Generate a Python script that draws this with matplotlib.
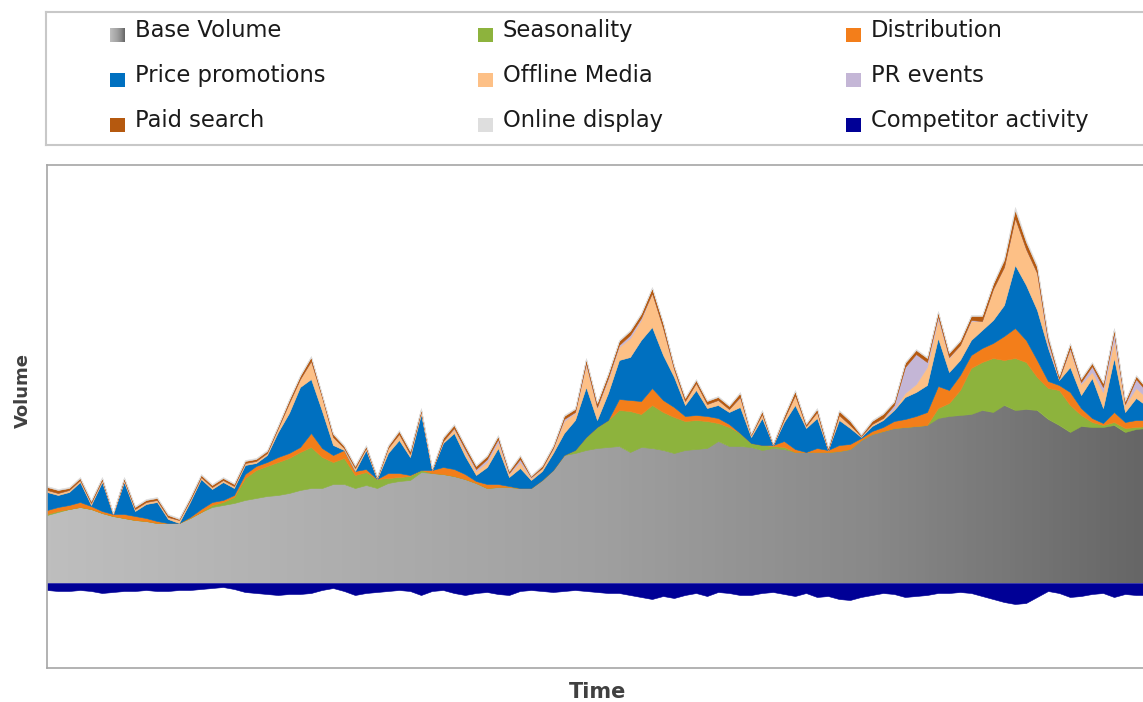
import numpy as np
import matplotlib
matplotlib.use("Agg")
import matplotlib.pyplot as plt
from matplotlib.colors import LinearSegmentedColormap
from matplotlib.patches import PathPatch, Rectangle

# weekly volume decomposition (arbitrary units)
base_volume = [68, 71, 74, 76, 74, 70, 67, 65, 63, 62,
               60, 60, 60, 65, 71, 76, 78, 80, 83, 85,
               87, 88, 90, 93, 95, 95, 99, 99, 95, 98,
               95, 100, 102, 103, 111, 110, 109, 107, 104, 100,
               95, 96, 96, 95, 95, 103, 113, 128, 130, 133,
               135, 136, 137, 131, 136, 135, 133, 130, 133, 134,
               135, 142, 137, 137, 136, 133, 135, 134, 131, 131,
               131, 131, 132, 134, 143, 149, 152, 155, 156, 157,
               158, 165, 167, 168, 169, 173, 171, 178, 173, 174,
               173, 164, 158, 151, 157, 156, 156, 158, 151, 154, 155]
seasonality = [1, 1, 0, 0, 0, 0, 0, 0, 0, 0,
               0, 0, 0, 0, 0, 2, 3, 6, 22, 28,
               30, 33, 35, 38, 41, 31, 22, 26, 13, 13,
               9, 5, 4, 4, 2, 0, 0, 0, 0, 0,
               0, 0, 0, 0, 0, 0, 0, 0, 3, 13,
               21, 27, 36, 41, 33, 43, 38, 36, 29, 29,
               27, 18, 19, 13, 4, 5, 2, 2, 0, 0,
               0, 0, 0, 0, 0, 0, 0, 0, 0, 0,
               0, 10, 13, 25, 46, 48, 54, 45, 52, 47,
               33, 31, 35, 27, 11, 5, 2, 3, 4, 2, 2]
distribution = [4, 4, 4, 5, 3, 2, 2, 4, 4, 3,
                2, 0, 0, 1, 3, 3, 2, 2, 4, 4,
                4, 5, 5, 5, 14, 9, 7, 8, 4, 3,
                0, 5, 4, 1, 0, 3, 7, 7, 5, 2,
                4, 3, 1, 0, 0, 0, 0, 0, 0, 0,
                0, 0, 11, 11, 13, 17, 12, 10, 5, 5,
                5, 5, 3, 0, 0, 0, 1, 6, 3, 0,
                4, 2, 6, 5, 2, 3, 4, 7, 8, 10,
                13, 22, 13, 15, 13, 14, 15, 24, 30, 22,
                17, 7, 5, 13, 7, 4, 2, 10, 6, 7, 6]
price_promotions = [18, 12, 13, 20, 1, 29, 0, 32, 5, 14,
                    19, 4, 0, 15, 30, 13, 18, 7, 9, 3,
                    7, 25, 40, 60, 54, 37, 10, 0, 0, 19,
                    0, 20, 33, 18, 56, 0, 24, 36, 18, 6,
                    17, 36, 9, 20, 8, 9, 17, 22, 30, 50,
                    7, 27, 39, 43, 61, 61, 45, 30, 11, 25,
                    8, 13, 12, 26, 6, 27, 0, 19, 44, 24,
                    30, 0, 25, 16, 1, 5, 7, 11, 22, 24,
                    27, 48, 18, 15, 15, 18, 23, 31, 63, 55,
                    50, 33, 5, 25, 13, 40, 15, 54, 10, 22, 14]
offline_media = [2, 2, 2, 2, 2, 2, 0, 2, 2, 2,
                 2, 2, 3, 2, 2, 2, 2, 2, 2, 2,
                 2, 4, 10, 8, 18, 14, 8, 2, 3, 2,
                 1, 5, 6, 3, 3, 0, 2, 4, 5, 4,
                 5, 6, 3, 6, 2, 3, 4, 12, 7, 22,
                 12, 13, 13, 19, 20, 34, 27, 7, 4, 7,
                 4, 5, 3, 9, 2, 4, 0, 3, 10, 2,
                 6, 0, 5, 3, 1, 2, 2, 1, 4, 8,
                 18, 19, 14, 15, 19, 9, 31, 38, 47, 36,
                 37, 2, 1, 17, 11, 6, 16, 18, 7, 10, 8]
pr_events = [0, 0, 0, 0, 0, 0, 0, 0, 0, 0,
             0, 0, 0, 0, 0, 0, 0, 0, 0, 0,
             0, 0, 0, 0, 0, 0, 0, 0, 0, 0,
             0, 0, 0, 0, 0, 0, 0, 1, 2, 2,
             3, 3, 1, 3, 1, 0, 1, 2, 1, 2,
             1, 2, 2, 3, 2, 0, 0, 1, 0, 0,
             0, 0, 0, 1, 0, 0, 0, 0, 0, 0,
             0, 0, 0, 0, 0, 0, 0, 4, 26, 30,
             5, 3, 1, 0, 1, 0, 0, 0, 0, 0,
             0, 5, 0, 2, 2, 6, 5, 7, 1, 9, 6]
paid_search = [3, 3, 2, 2, 2, 2, 1, 2, 2, 2,
               2, 2, 1, 2, 2, 2, 2, 2, 2, 2,
               2, 2, 3, 3, 4, 2, 3, 2, 2, 2,
               1, 2, 3, 3, 2, 1, 3, 3, 3, 3,
               3, 3, 2, 3, 1, 2, 2, 3, 3, 4,
               4, 4, 4, 4, 4, 5, 5, 3, 3, 3,
               3, 3, 3, 4, 1, 3, 1, 3, 4, 2,
               3, 2, 4, 4, 1, 3, 4, 3, 4, 4,
               4, 4, 4, 4, 4, 5, 5, 7, 8, 7,
               6, 4, 3, 4, 3, 3, 4, 4, 3, 3, 3]
online_display = [1, 1, 1, 1, 1, 1, 0, 1, 1, 1,
                  1, 1, 1, 1, 1, 1, 1, 1, 1, 1,
                  1, 1, 1, 1, 1, 1, 1, 1, 1, 1,
                  1, 1, 1, 1, 1, 1, 1, 1, 1, 1,
                  1, 1, 1, 1, 1, 1, 1, 1, 1, 1,
                  1, 1, 1, 1, 1, 1, 1, 1, 1, 1,
                  1, 1, 1, 1, 1, 1, 1, 1, 1, 1,
                  1, 1, 1, 1, 1, 1, 1, 1, 1, 1,
                  1, 1, 1, 1, 1, 1, 1, 2, 3, 2,
                  2, 2, 1, 1, 1, 1, 1, 1, 1, 1, 1]
competitor_activity = [-7, -8, -8, -7, -8, -10, -9, -8, -8, -7,
                       -8, -8, -7, -7, -6, -5, -4, -6, -9, -10,
                       -11, -12, -11, -11, -10, -7, -5, -8, -12, -10,
                       -9, -8, -7, -8, -12, -8, -7, -10, -12, -10,
                       -9, -11, -12, -8, -7, -8, -9, -8, -7, -8,
                       -9, -10, -10, -12, -14, -16, -13, -15, -12, -10,
                       -13, -9, -10, -12, -12, -10, -9, -11, -13, -10,
                       -14, -13, -16, -17, -14, -12, -10, -11, -14, -13,
                       -12, -10, -10, -9, -10, -13, -16, -19, -21, -20,
                       -14, -8, -10, -14, -13, -11, -10, -14, -11, -12, -12]

labels = ["Base Volume", "Seasonality", "Distribution",
          "Price promotions", "Offline Media", "PR events",
          "Paid search", "Online display", "Competitor activity"]
colors = ["#a8a8a8", "#8db33d", "#f37e1a",
          "#0070c0", "#fdc086", "#c4b6d6",
          "#b5590f", "#dedede", "#000096"]

grey = LinearSegmentedColormap.from_list(
    "base", [(0, "#bebebe"), (0.5, "#a0a0a0"), (0.75, "#898989"), (1, "#666666")])

W, H = 1143, 702
fig = plt.figure(figsize=(W / 100, H / 100), dpi=100)

# main plot area (right edge runs off the picture like the original)
ax = fig.add_axes([47 / W, 1 - 668 / H, (1150 - 47) / W, (668 - 165) / H])
t = np.arange(len(base_volume))
layers = [base_volume, seasonality, distribution, price_promotions,
          offline_media, pr_events, paid_search, online_display]
polys = ax.stackplot(t, layers, colors=colors[:8], linewidth=0.4)
for p, c in zip(polys, colors[:8]):
    p.set_edgecolor(c)
ax.fill_between(t, competitor_activity, 0, color=colors[8], linewidth=0.4)

# horizontal grey gradient for base volume
polys[0].set_facecolor("none")
polys[0].set_edgecolor("none")
clip = PathPatch(polys[0].get_paths()[0], transform=ax.transData, fc="none", ec="none")
ax.add_patch(clip)
im = ax.imshow(np.linspace(0, 1, 256).reshape(1, -1), cmap=grey, aspect="auto",
               extent=[0, 99.6, 0, max(base_volume) + 5], zorder=0.5)
im.set_clip_path(clip)

ax.set_xlim(0, (1150 - 47) / 11)
ax.set_ylim(-85, 418)
ax.set_xticks([])
ax.set_yticks([])
for s in ax.spines.values():
    s.set_color("#a6a6a6")
    s.set_linewidth(1.2)

fig.text(23 / W, 1 - 391 / H, "Volume", rotation=90, ha="center", va="center",
         fontsize=13, fontweight="bold", color="#404040")
fig.text(598 / W, 1 - 692 / H, "Time", ha="center", va="center",
         fontsize=15, fontweight="bold", color="#404040")

# legend box, drawn in pixel units
lg = fig.add_axes([46 / W, 1 - 145 / H, (1150 - 46) / W, (145 - 12) / H])
lg.set_xticks([])
lg.set_yticks([])
for s in lg.spines.values():
    s.set_color("#c8c8c8")
    s.set_linewidth(1.5)

col_x = [110, 478, 846]
row_y = [37, 82, 127]
for k, (lab, col) in enumerate(zip(labels, colors)):
    x0 = col_x[k % 3]
    y0 = row_y[k // 3]
    if k == 0:
        lg.imshow(np.linspace(0.1, 1, 32).reshape(1, -1), cmap=grey, aspect="auto",
                  extent=[x0, x0 + 15, y0 + 5, y0 - 9])
    else:
        lg.add_patch(Rectangle((x0, y0 - 9), 15, 14, facecolor=col, edgecolor="none"))
    lg.text(x0 + 25, y0, lab, fontsize=16.3, color="#1a1a1a", va="baseline", ha="left")
lg.set_xlim(46, 1150)
lg.set_ylim(145, 12)

fig.savefig("out.png", dpi=100)
